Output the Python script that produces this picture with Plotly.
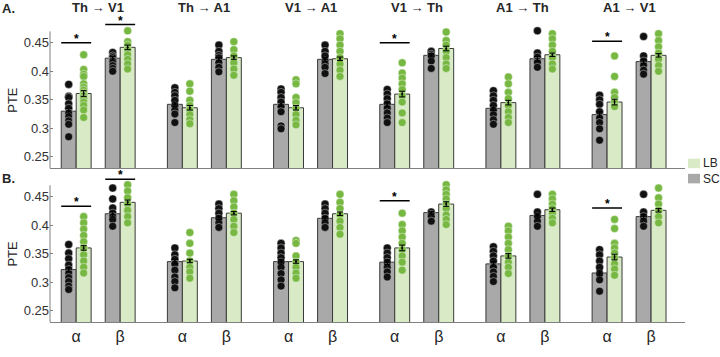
import plotly.graph_objects as go

# ---------------- data ----------------
groups = ["Th → V1", "Th → A1", "V1 → A1", "V1 → Th", "A1 → Th", "A1 → V1"]
bands = ["α", "β"]

# order: g0-alpha, g0-beta, g1-alpha, g1-beta, ...
sc_mean_A = [0.330, 0.423, 0.342, 0.421, 0.342, 0.421, 0.342, 0.428, 0.335, 0.422, 0.324, 0.417]
lb_mean_A = [0.361, 0.442, 0.336, 0.424, 0.336, 0.422, 0.360, 0.440, 0.345, 0.429, 0.346, 0.428]
sc_sem_A = [0.005, 0.003, 0.004, 0.003, 0.004, 0.003, 0.004, 0.003, 0.004, 0.004, 0.005, 0.004]
lb_sem_A = [0.005, 0.004, 0.004, 0.003, 0.004, 0.003, 0.005, 0.004, 0.004, 0.003, 0.005, 0.003]

sc_mean_B = [0.322, 0.420, 0.336, 0.413, 0.336, 0.412, 0.335, 0.422, 0.332, 0.417, 0.316, 0.415]
lb_mean_B = [0.360, 0.440, 0.337, 0.421, 0.336, 0.420, 0.360, 0.437, 0.346, 0.427, 0.344, 0.426]
sc_sem_B = [0.004, 0.004, 0.004, 0.003, 0.004, 0.003, 0.004, 0.002, 0.004, 0.004, 0.005, 0.004]
lb_sem_B = [0.004, 0.004, 0.003, 0.003, 0.003, 0.003, 0.005, 0.004, 0.004, 0.003, 0.005, 0.003]

sc_dots_A = [
    [0.377, 0.356, 0.354, 0.343, 0.335, 0.327, 0.320, 0.313, 0.307, 0.285],
    [0.433, 0.427, 0.424, 0.420, 0.418, 0.415, 0.410, 0.405, 0.400],
    [0.371, 0.363, 0.357, 0.349, 0.340, 0.332, 0.325, 0.310],
    [0.446, 0.435, 0.428, 0.424, 0.415, 0.407, 0.399],
    [0.369, 0.363, 0.354, 0.346, 0.338, 0.329, 0.304, 0.299],
    [0.446, 0.435, 0.427, 0.418, 0.413, 0.407, 0.396],
    [0.368, 0.360, 0.352, 0.343, 0.335, 0.327, 0.318, 0.310],
    [0.435, 0.430, 0.427, 0.418, 0.405],
    [0.366, 0.357, 0.349, 0.340, 0.332, 0.324, 0.315, 0.307],
    [0.471, 0.432, 0.425, 0.418, 0.415, 0.407],
    [0.358, 0.350, 0.342, 0.329, 0.318, 0.310, 0.299, 0.279],
    [0.461, 0.427, 0.418, 0.410, 0.402, 0.395],
]
lb_dots_A = [
    [0.429, 0.403, 0.395, 0.391, 0.378, 0.372, 0.367, 0.362, 0.357, 0.352, 0.346, 0.340, 0.332, 0.319],
    [0.471, 0.452, 0.446, 0.438, 0.429, 0.421, 0.413, 0.404],
    [0.378, 0.365, 0.349, 0.340, 0.332, 0.324, 0.315, 0.308],
    [0.452, 0.438, 0.427, 0.415, 0.404, 0.393],
    [0.385, 0.378, 0.354, 0.345, 0.335, 0.324, 0.314, 0.306],
    [0.466, 0.457, 0.446, 0.435, 0.424, 0.413, 0.402, 0.391],
    [0.415, 0.397, 0.388, 0.378, 0.368, 0.357, 0.346, 0.327, 0.310],
    [0.469, 0.454, 0.446, 0.435, 0.424, 0.413, 0.405],
    [0.390, 0.378, 0.363, 0.352, 0.340, 0.329, 0.319, 0.310],
    [0.466, 0.457, 0.446, 0.435, 0.424, 0.413, 0.404],
    [0.427, 0.391, 0.363, 0.354, 0.346, 0.338],
    [0.466, 0.454, 0.443, 0.432, 0.421, 0.410, 0.400],
]
sc_dots_B = [
    [0.366, 0.351, 0.341, 0.330, 0.322, 0.315, 0.308, 0.301, 0.293, 0.287],
    [0.465, 0.446, 0.430, 0.421, 0.415, 0.410, 0.398],
    [0.360, 0.348, 0.340, 0.332, 0.321, 0.309, 0.301, 0.290],
    [0.437, 0.429, 0.421, 0.412, 0.404, 0.396],
    [0.368, 0.360, 0.351, 0.343, 0.335, 0.326, 0.315, 0.304, 0.293],
    [0.437, 0.429, 0.421, 0.412, 0.404, 0.396],
    [0.360, 0.351, 0.343, 0.335, 0.326, 0.318, 0.309],
    [0.423, 0.419, 0.415, 0.407],
    [0.362, 0.354, 0.346, 0.337, 0.326, 0.318, 0.310, 0.301],
    [0.454, 0.423, 0.415, 0.407, 0.398],
    [0.357, 0.348, 0.337, 0.326, 0.315, 0.304, 0.284],
    [0.454, 0.423, 0.415, 0.407, 0.398],
]
lb_dots_B = [
    [0.415, 0.404, 0.393, 0.382, 0.371, 0.360, 0.348, 0.337, 0.326, 0.316],
    [0.471, 0.460, 0.448, 0.437, 0.426, 0.415, 0.404],
    [0.387, 0.368, 0.351, 0.337, 0.326, 0.318, 0.307],
    [0.454, 0.443, 0.432, 0.421, 0.410, 0.398, 0.387],
    [0.373, 0.368, 0.346, 0.335, 0.326, 0.316, 0.307],
    [0.454, 0.440, 0.429, 0.418, 0.407, 0.396, 0.384],
    [0.421, 0.401, 0.390, 0.379, 0.368, 0.357, 0.346, 0.335, 0.321],
    [0.471, 0.462, 0.454, 0.446, 0.437, 0.429, 0.418, 0.410, 0.401],
    [0.398, 0.390, 0.379, 0.368, 0.357, 0.346, 0.335, 0.326, 0.315],
    [0.454, 0.446, 0.437, 0.429, 0.421, 0.412, 0.404],
    [0.410, 0.394, 0.368, 0.360, 0.351, 0.343, 0.332, 0.323, 0.312],
    [0.465, 0.448, 0.437, 0.426, 0.415, 0.404],
]

# significance markers: (bar index, line level)
sig_A = [(0, 0.450), (1, 0.482), (6, 0.450), (10, 0.4527)]
sig_B = [(0, 0.433), (1, 0.4807), (6, 0.443), (10, 0.430)]

# ---------------- layout helpers ----------------
GSP = 2.413      # group spacing (in alpha-beta units)
HALF = 0.17      # half bar width
BW = 0.34
XR = [-0.595, 13.836]
YR = [0.23, 0.49]
YTOP = 0.47

centers = []
for g in range(len(groups)):
    for b in range(len(bands)):
        centers.append(g * GSP + b)

SC_FILL = "#a9a9a9"
LB_FILL = "#d9eac6"
EDGE = "#3a3a3a"
GREEN = "#77b843"
BLACK = "#111111"
AX = "#808080"
TXT = "#262626"

fig = go.Figure()

def add_panel(sc_mean, lb_mean, sc_sem, lb_sem, sc_dots, lb_dots, xa, ya):
    sc_x = [c - HALF for c in centers]
    lb_x = [c + HALF for c in centers]
    fig.add_trace(go.Bar(x=sc_x, y=sc_mean, width=BW, marker=dict(color=SC_FILL, line=dict(color=EDGE, width=1)),
                         xaxis=xa, yaxis=ya, showlegend=False))
    fig.add_trace(go.Bar(x=lb_x, y=lb_mean, width=BW, marker=dict(color=LB_FILL, line=dict(color=EDGE, width=1)),
                         xaxis=xa, yaxis=ya, showlegend=False))
    dx, dy = [], []
    for x, ds in zip(sc_x, sc_dots):
        dx += [x] * len(ds); dy += ds
    fig.add_trace(go.Scatter(x=dx, y=dy, mode="markers", xaxis=xa, yaxis=ya, showlegend=False,
                             marker=dict(size=8, color=BLACK, line=dict(color="rgba(255,255,255,0.55)", width=0.7))))
    dx, dy = [], []
    for x, ds in zip(lb_x, lb_dots):
        dx += [x] * len(ds); dy += ds
    fig.add_trace(go.Scatter(x=dx, y=dy, mode="markers", xaxis=xa, yaxis=ya, showlegend=False,
                             marker=dict(size=8, color=GREEN, line=dict(color="rgba(255,255,255,0.6)", width=0.7))))
    for xs, ms, ss in ((sc_x, sc_mean, sc_sem), (lb_x, lb_mean, lb_sem)):
        fig.add_trace(go.Scatter(x=xs, y=ms, mode="markers", marker=dict(size=2, color="black"),
                                 error_y=dict(type="data", array=ss, color="black", thickness=1, width=3),
                                 xaxis=xa, yaxis=ya, showlegend=False))

add_panel(sc_mean_A, lb_mean_A, sc_sem_A, lb_sem_A, sc_dots_A, lb_dots_A, "x", "y")
add_panel(sc_mean_B, lb_mean_B, sc_sem_B, lb_sem_B, sc_dots_B, lb_dots_B, "x2", "y2")

shapes = []
annotations = []

for sig, xr, yr in ((sig_A, "x", "y"), (sig_B, "x2", "y2")):
    for idx, lvl in sig:
        c = centers[idx]
        shapes.append(dict(type="line", xref=xr, yref=yr, x0=c - 2 * HALF, x1=c + 2 * HALF, y0=lvl, y1=lvl,
                           line=dict(color="black", width=1.5)))
        annotations.append(dict(xref=xr, yref=yr, x=c, y=lvl, text="<b>*</b>", showarrow=False,
                                yanchor="bottom", yshift=-5, font=dict(size=12, color="black", family="Arial")))

# y-axis lines (drawn only up to YTOP)
frac = (YTOP - YR[0]) / (YR[1] - YR[0])
for xr, yr in (("x domain", "y domain"), ("x2 domain", "y2 domain")):
    shapes.append(dict(type="line", xref=xr, yref=yr, x0=0, x1=0, y0=0, y1=frac, line=dict(color=AX, width=1)))

# group titles
for g, name in enumerate(groups):
    annotations.append(dict(xref="x", yref="paper", x=g * GSP + 0.5, y=(338 - 7) / 318, text="<b>%s</b>" % name,
                            showarrow=False, yanchor="middle", font=dict(size=13, color=TXT)))

# panel labels
annotations.append(dict(xref="paper", yref="paper", x=-50 / 635, y=(338 - 8) / 318, text="<b>A.</b>",
                        showarrow=False, xanchor="left", yanchor="middle", font=dict(size=13, color=TXT)))
annotations.append(dict(xref="paper", yref="paper", x=-50 / 635, y=(338 - 187) / 318, text="<b>B.</b>",
                        showarrow=False, xanchor="left", yanchor="middle", font=dict(size=13, color=TXT)))

# PTE labels
for ymid in (104, 266):
    annotations.append(dict(xref="paper", yref="paper", x=(13 - 50) / 635, y=(338 - ymid) / 318, text="PTE",
                            textangle=-90, showarrow=False, xanchor="center", yanchor="middle",
                            font=dict(size=13, color=TXT)))

# manual legend
for lab, col, top in (("LB", LB_FILL, 166), ("SC", SC_FILL, 182)):
    shapes.append(dict(type="rect", xref="paper", yref="paper", x0=(688 - 50) / 635, x1=(700 - 50) / 635,
                       y0=(338 - top - 10) / 318, y1=(338 - top) / 318, fillcolor=col, line=dict(width=0)))
    annotations.append(dict(xref="paper", yref="paper", x=(701 - 50) / 635, y=(338 - top - 5) / 318, text=lab,
                            showarrow=False, xanchor="left", yanchor="middle", font=dict(size=12, color=TXT)))

tickfont = dict(size=13, color="#333333")
yax = dict(range=YR, tickvals=[0.25, 0.3, 0.35, 0.4, 0.45], ticktext=["0.25", "0.3", "0.35", "0.4", "0.45"],
           ticks="inside", ticklen=3, tickcolor=AX, showline=False, showgrid=False, zeroline=False,
           tickfont=tickfont)
xax = dict(range=XR, showline=True, linecolor=AX, linewidth=1, showgrid=False, zeroline=False, ticks="")

fig.update_layout(
    width=720, height=357,
    margin=dict(l=50, r=35, t=20, b=19),
    paper_bgcolor="white", plot_bgcolor="white",
    font=dict(family="Arial, Liberation Sans, sans-serif", color=TXT),
    barmode="overlay",
    xaxis=dict(xax, anchor="y", showticklabels=False),
    yaxis=dict(yax, domain=[(338 - 176) / 318, 1.0], anchor="x"),
    xaxis2=dict(xax, anchor="y2", tickvals=centers, ticktext=[bands[i % 2] for i in range(len(centers))],
                tickfont=dict(size=16, color=TXT)),
    yaxis2=dict(yax, domain=[0, (338 - 182) / 318], anchor="x2"),
    shapes=shapes,
    annotations=annotations,
)

fig.write_html("out.html")
